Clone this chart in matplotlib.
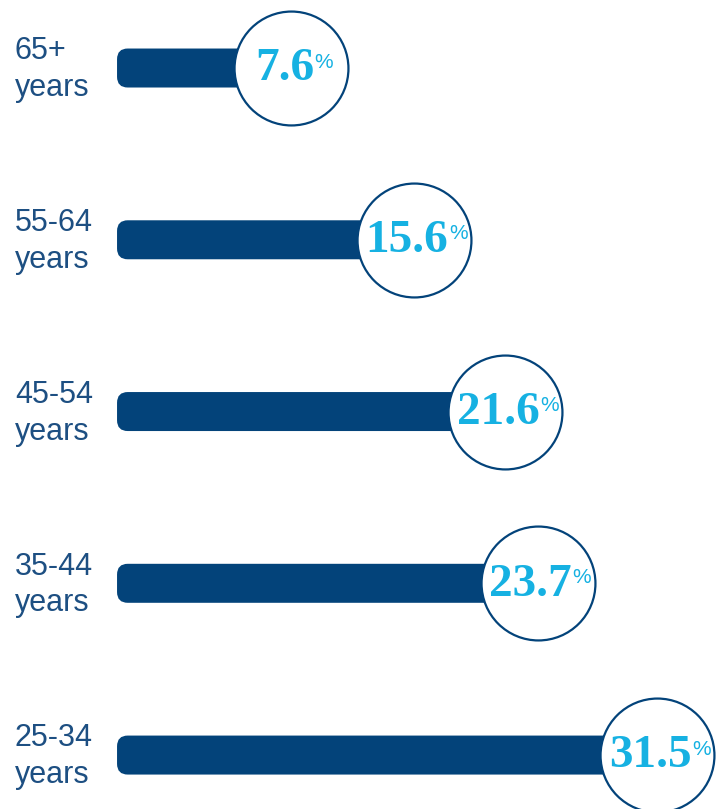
import matplotlib.pyplot as plt
from matplotlib.patches import FancyBboxPatch

# data, top to bottom
age_groups = ["65+\nyears", "55-64\nyears", "45-54\nyears", "35-44\nyears", "25-34\nyears"]
shares = [7.6, 15.6, 21.6, 23.7, 31.5]

navy = "#03437a"
cyan = "#16b1e2"
label_col = "#1d4f82"

fig = plt.figure(figsize=(7.18, 8.09), dpi=100)
ax = fig.add_axes([0, 0, 1, 1])
ax.set_xlim(-11.44, 35.49)
ax.set_ylim(4.314, -0.396)
ax.axis("off")

rows = list(range(len(shares)))
bar_start = -3.79
bar_h = 0.227
# keep corner rounding round in pixels
aspect = (4.71 / 809) / (46.93 / 718)

for y, lab, v in zip(rows, age_groups, shares):
    bar = FancyBboxPatch((bar_start, y - bar_h / 2), v - bar_start, bar_h,
                         boxstyle="round,pad=0,rounding_size=0.7",
                         mutation_aspect=aspect, fc=navy, ec="none", zorder=1)
    ax.add_patch(bar)
    ax.text(-10.46, y + 0.01, lab, ha="left", va="center", fontsize=22,
            color=label_col, family="Liberation Sans", linespacing=1.3)

ax.scatter(shares, rows, s=82 ** 2, facecolor="white", edgecolor=navy,
           linewidth=1.6, zorder=2)

for y, v in zip(rows, shares):
    t = ax.annotate(f"{v}", xy=(v, y), xytext=(-5, -1), textcoords="offset points",
                    ha="center", va="center", fontsize=34, fontweight="bold",
                    family="Liberation Serif", color=cyan, zorder=3)
    ax.annotate("%", xy=(1, 0.9), xycoords=t, xytext=(0.5, 0),
                textcoords="offset points", ha="left", va="top",
                fontsize=15, family=["Liberation Sans Narrow", "Liberation Sans"],
                color=cyan, zorder=3)

fig.savefig("out.png", dpi=100)
